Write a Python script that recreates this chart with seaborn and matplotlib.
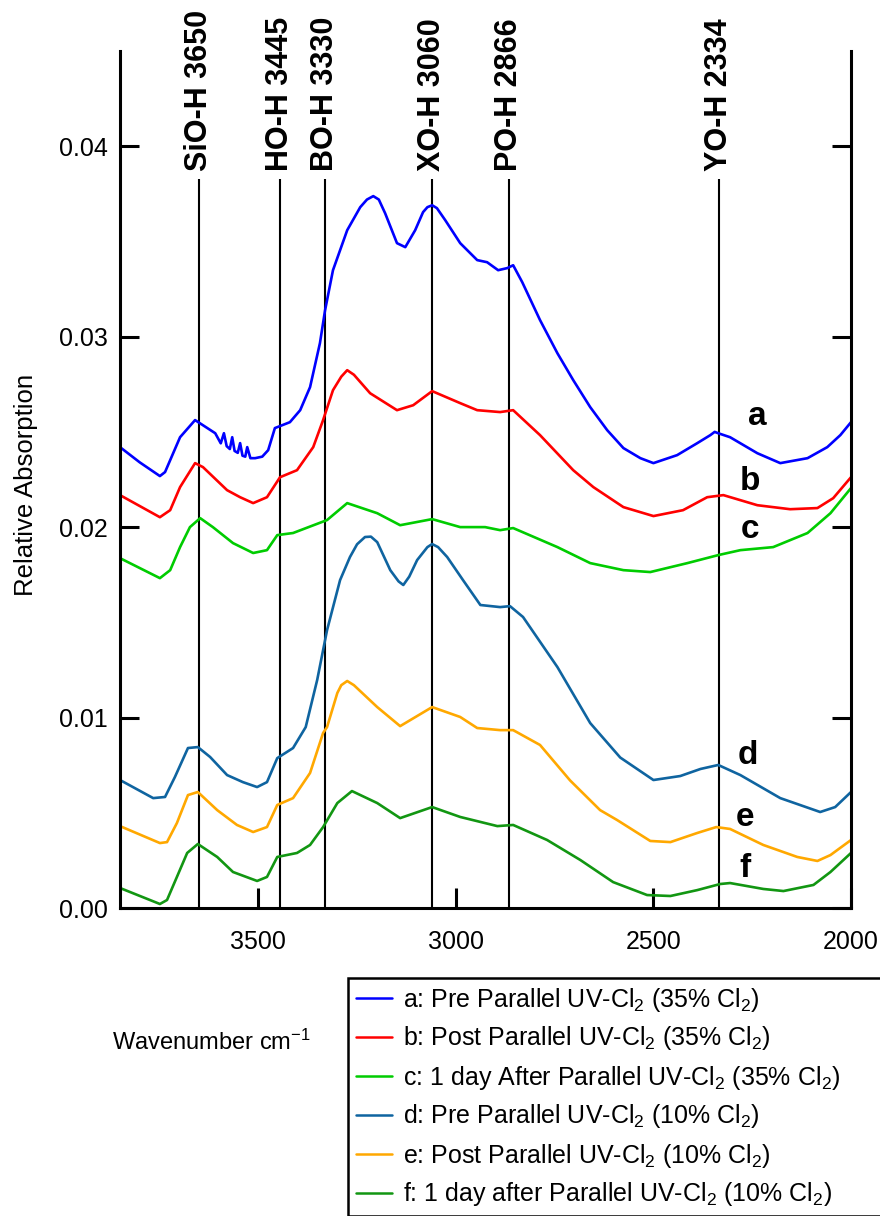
import matplotlib
matplotlib.use("Agg")
import matplotlib.pyplot as plt
from matplotlib.lines import Line2D
import seaborn as sns
import pandas as pd

# ---- spectra: wavenumber (cm^-1) and relative absorption ----
a_wn = [3850, 3800, 3749, 3736, 3698, 3660, 3609, 3595, 3587, 3580, 3572, 3566, 3560, 3552,
        3546, 3540, 3533, 3528, 3520, 3508, 3490, 3475, 3458, 3420, 3394, 3369, 3344,
        3331, 3311, 3275, 3242, 3225, 3209, 3195, 3179, 3149, 3128, 3103, 3083, 3072,
        3060, 3048, 3027, 2989,
        2946, 2921, 2893, 2870, 2855, 2832, 2787, 2743, 2703, 2660, 2617, 2576, 2533,
        2500, 2440, 2389, 2356, 2345, 2336, 2306, 2237, 2179, 2110, 2060, 2027, 2000]
a_abs = [0.02420, 0.02340, 0.02268, 0.02289, 0.02472, 0.02562, 0.02493, 0.02440, 0.02493, 0.02425,
         0.02410, 0.02472, 0.02400, 0.02390, 0.02441, 0.02375, 0.02370, 0.02420, 0.02362,
         0.02362, 0.02370, 0.02404, 0.02520, 0.02551, 0.02614, 0.02735, 0.02966, 0.03139,
         0.03349, 0.03559, 0.03680, 0.03720, 0.03738, 0.03720, 0.03648, 0.03491, 0.03470,
         0.03559, 0.03654, 0.03680, 0.03690, 0.03675, 0.03612, 0.03491, 0.03402, 0.03391,
         0.03349, 0.03360, 0.03375, 0.03286,
         0.03087, 0.02913, 0.02772, 0.02630, 0.02509, 0.02415, 0.02362, 0.02336, 0.02378,
         0.02441, 0.02483, 0.02500, 0.02493, 0.02472, 0.02388, 0.02336, 0.02362, 0.02420,
         0.02483, 0.02551]

b_wn = [3850, 3749, 3723, 3698, 3660, 3640, 3579, 3546, 3513, 3478, 3445, 3402, 3361,
        3336, 3311, 3290, 3275, 3258, 3217, 3149, 3108, 3060, 2989, 2946, 2888, 2855, 2787,
        2703, 2652, 2576, 2500, 2425, 2364, 2323, 2237, 2154, 2085, 2045, 2000]
b_abs = [0.02168, 0.02052, 0.02089, 0.02210, 0.02336, 0.02315, 0.02194, 0.02157, 0.02126,
         0.02157, 0.02262, 0.02299, 0.02420, 0.02562, 0.02719, 0.02790, 0.02824, 0.02800,
         0.02703, 0.02614, 0.02640, 0.02714, 0.02651, 0.02614, 0.02604, 0.02614, 0.02483,
         0.02299, 0.02210, 0.02105, 0.02058, 0.02089, 0.02157, 0.02168, 0.02115, 0.02094,
         0.02100, 0.02152, 0.02262]

c_wn = [3850, 3749, 3723, 3698, 3673, 3647, 3615, 3564, 3513, 3478, 3452, 3412, 3326,
        3275, 3199, 3141, 3060, 2989, 2926, 2888, 2855, 2743, 2660, 2576, 2508, 2414,
        2336, 2280, 2197, 2110, 2052, 2000]
c_abs = [0.01837, 0.01732, 0.01774, 0.01895, 0.02000, 0.02047, 0.02000, 0.01916, 0.01864,
         0.01879, 0.01958, 0.01969, 0.02037, 0.02126, 0.02073, 0.02010, 0.02042, 0.02000,
         0.02000, 0.01984, 0.01995, 0.01895, 0.01811, 0.01774, 0.01764, 0.01811, 0.01853,
         0.01879, 0.01895, 0.01969, 0.02073, 0.02205]

d_wn = [3850, 3766, 3736, 3711, 3678, 3653, 3622, 3579, 3539, 3503, 3478, 3452, 3412,
        3380, 3351, 3326, 3293, 3268, 3250, 3230, 3215, 3199, 3166, 3145, 3133, 3118,
        3098, 3072, 3060, 3045, 3022, 2982, 2938, 2888, 2863, 2830, 2743, 2660, 2584,
        2500, 2432, 2381, 2336, 2280, 2179, 2078, 2040, 2000]
d_abs = [0.00672, 0.00577, 0.00583, 0.00688, 0.00840, 0.00845, 0.00793, 0.00698, 0.00661,
         0.00635, 0.00661, 0.00787, 0.00840, 0.00950, 0.01197, 0.01459, 0.01722, 0.01843,
         0.01910, 0.01948, 0.01950, 0.01921, 0.01774, 0.01715, 0.01696, 0.01740, 0.01827,
         0.01895, 0.01911, 0.01895, 0.01843, 0.01722, 0.01591, 0.01580, 0.01585, 0.01528,
         0.01265, 0.00971, 0.00790, 0.00672, 0.00693, 0.00730, 0.00751, 0.00698, 0.00577,
         0.00504, 0.00530, 0.00609]

e_wn = [3850, 3749, 3731, 3706, 3678, 3653, 3604, 3554, 3513, 3478, 3452, 3412, 3369,
        3336, 3326, 3300, 3290, 3275, 3258, 3199, 3141, 3060, 2989, 2946, 2888, 2855, 2787,
        2711, 2635, 2592, 2508, 2457, 2389, 2341, 2306, 2222, 2136, 2085, 2052, 2000]
e_abs = [0.00430, 0.00341, 0.00346, 0.00446, 0.00593, 0.00609, 0.00514, 0.00436, 0.00399,
         0.00425, 0.00541, 0.00577, 0.00709, 0.00919, 0.00950, 0.01129, 0.01170, 0.01192,
         0.01170, 0.01055, 0.00955, 0.01055, 0.01003, 0.00945, 0.00934, 0.00934, 0.00856,
         0.00670, 0.00514, 0.00462, 0.00352, 0.00346, 0.00394, 0.00425, 0.00415, 0.00331,
         0.00268, 0.00247, 0.00278, 0.00357]

f_wn = [3850, 3749, 3731, 3706, 3680, 3653, 3604, 3564, 3503, 3478, 3452, 3402, 3369,
        3336, 3300, 3263, 3199, 3141, 3060, 2989, 2895, 2855, 2769, 2685, 2602, 2516,
        2457, 2389, 2331, 2306, 2222, 2171, 2095, 2052, 2000]
f_abs = [0.00105, 0.00021, 0.00042, 0.00163, 0.00289, 0.00336, 0.00268, 0.00189, 0.00142,
         0.00163, 0.00268, 0.00289, 0.00331, 0.00425, 0.00551, 0.00614, 0.00551, 0.00472,
         0.00530, 0.00478, 0.00430, 0.00436, 0.00357, 0.00252, 0.00136, 0.00068, 0.00063,
         0.00094, 0.00126, 0.00131, 0.00100, 0.00089, 0.00121, 0.00189, 0.00289]

series_keys = ["a", "b", "c", "d", "e", "f"]
series_labels = [
    r"a: Pre Parallel UV-Cl$_2$ (35% Cl$_2$)",
    r"b: Post Parallel UV-Cl$_2$ (35% Cl$_2$)",
    r"c: 1 day After Parallel UV-Cl$_2$ (35% Cl$_2$)",
    r"d: Pre Parallel UV-Cl$_2$ (10% Cl$_2$)",
    r"e: Post Parallel UV-Cl$_2$ (10% Cl$_2$)",
    r"f: 1 day after Parallel UV-Cl$_2$ (10% Cl$_2$)",
]
series_colors = ["#0000ff", "#ff0000", "#00cc00", "#0f64a0", "#ffa800", "#129612"]

# ---- assigned O-H bands ----
band_names = ["SiO-H 3650", "HO-H 3445", "BO-H 3330", "XO-H 3060", "PO-H 2866", "YO-H 2334"]
band_wn = [3650, 3445, 3330, 3060, 2866, 2334]

x_ticks = [3500, 3000, 2500, 2000]
y_ticks = [0.00, 0.01, 0.02, 0.03, 0.04]

# ---- long-form table for seaborn ----
frames = []
for key, wn, ab in zip(series_keys,
                       [a_wn, b_wn, c_wn, d_wn, e_wn, f_wn],
                       [a_abs, b_abs, c_abs, d_abs, e_abs, f_abs]):
    frames.append(pd.DataFrame({"wavenumber": wn, "absorption": ab, "series": key}))
df = pd.concat(frames, ignore_index=True)

sns.set_style("ticks")
plt.rcParams["font.family"] = ["Liberation Sans", "DejaVu Sans"]
plt.rcParams["mathtext.fontset"] = "custom"
plt.rcParams["mathtext.rm"] = "Liberation Sans"
plt.rcParams["mathtext.it"] = "Liberation Sans:italic"
plt.rcParams["mathtext.bf"] = "Liberation Sans:bold"
for key in ["text.color", "axes.labelcolor", "xtick.color", "ytick.color", "axes.edgecolor"]:
    plt.rcParams[key] = "black"

fig = plt.figure(figsize=(8.8, 12.16), dpi=100)
ax = fig.add_axes([120 / 880, 1 - 908 / 1216, (851 - 120) / 880, (908 - 51) / 1216])

palette = dict(zip(series_keys, series_colors))
sns.lineplot(data=df, x="wavenumber", y="absorption", hue="series", palette=palette,
             estimator=None, sort=False, legend=False, linewidth=1.9, ax=ax)

# band markers
top_line = 0.0383
ax.vlines(band_wn, 0, top_line, colors="black", linewidth=1.5, zorder=1)
for name, wn in zip(band_names, band_wn):
    ax.text(wn, 0.0387, name, rotation=90, ha="center", va="bottom",
            fontsize=22, fontweight="bold", clip_on=False)

# curve letters
letter_pos = {"a": (2237, 0.02535), "b": (2255, 0.02194), "c": (2255, 0.01942),
              "d": (2260, 0.00756), "e": (2268, 0.00430), "f": (2268, 0.00163)}
for key in series_keys:
    x, y = letter_pos[key]
    ax.text(x, y, key, ha="center", va="baseline", fontsize=24, fontweight="bold")

ax.set_xlim(3850, 2000)
ax.set_ylim(0, 0.045)
ax.set_xticks(x_ticks)
ax.set_xticklabels([str(t) for t in x_ticks])
ax.set_yticks(y_ticks)
ax.set_yticklabels([f"{t:.2f}" for t in y_ticks])
ax.set_xlabel("")
ax.set_ylabel("")

for side in ["left", "right", "bottom"]:
    ax.spines[side].set_visible(True)
    ax.spines[side].set_linewidth(2.2)
    ax.spines[side].set_color("black")
ax.spines["top"].set_visible(False)

ax.tick_params(axis="x", direction="in", length=14.5, width=2.2, pad=16,
               labelsize=18, colors="black", top=False)
ax.tick_params(axis="y", direction="in", length=14, width=2.2, pad=9,
               labelsize=18, colors="black", left=True, right=True)

fig.text(26 / 880, 1 - 485 / 1216, "Relative Absorption", rotation=90,
         ha="center", va="center", fontsize=18.5)
fig.text(112 / 880, 1 - 1050 / 1216, r"Wavenumber cm$^{-1}$",
         ha="left", va="baseline", fontsize=17)

handles = [Line2D([0], [0], color=c, linewidth=1.8) for c in series_colors]
leg = fig.legend(handles, series_labels, loc="upper left", mode="expand",
                 bbox_to_anchor=(348 / 880, 0, 560 / 880, 1 - 978 / 1216), borderaxespad=0,
                 fontsize=18, frameon=True, fancybox=False, framealpha=1,
                 edgecolor="black", handlelength=1.45, handletextpad=0.45,
                 labelspacing=0.44, borderpad=0.3)
leg.get_frame().set_linewidth(1.8)

fig.savefig("out.png", dpi=100)
